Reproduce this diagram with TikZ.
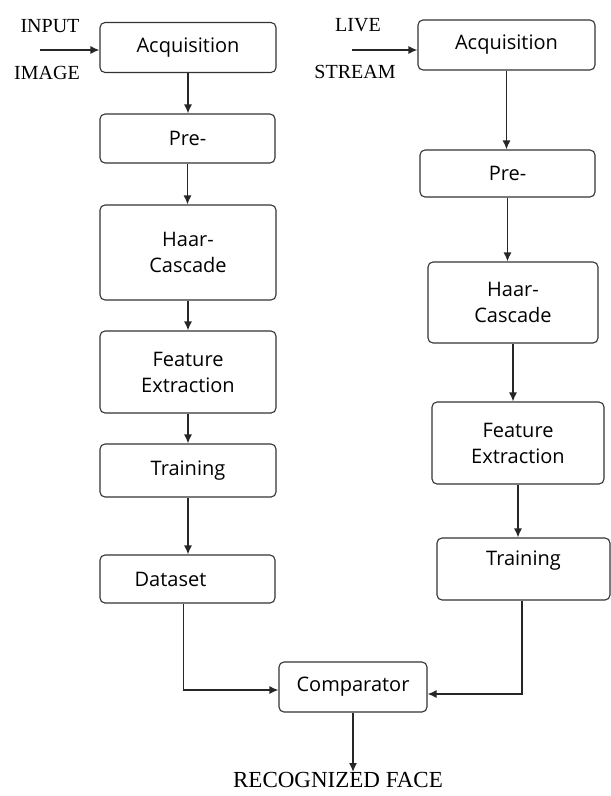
\documentclass[tikz,border=0pt]{standalone}
\usepackage{fontspec}
\setmainfont{Liberation Serif}
\newfontfamily\boxfont{Open Sans}
\usetikzlibrary{arrows.meta,positioning}
\tikzset{>={Latex[length=9pt,width=8pt]}}
\tikzset{stage/.style={draw=black!80, line width=1.1pt, rounded corners=5pt,
    align=center, font=\boxfont\fontsize{20}{26}\selectfont, inner sep=2pt}}
\tikzset{tag/.style={font=\fontsize{20}{22}\selectfont, inner sep=0pt}}
\tikzset{flow/.style={->, draw=black!85, line width=1.4pt}}

\begin{document}
\begin{tikzpicture}[x=1pt,y=-1pt]
  \useasboundingbox (0,0) rectangle (611,796);
  % left column: input image
  \node[stage, minimum width=176pt, minimum height=50pt] (acqL) at (188,47.5) {Acquisition};
  \node[stage, minimum width=175pt, minimum height=49pt] (preL) at (187.5,138.5) {Pre-};
  \node[stage, minimum width=176pt, minimum height=95pt] (haarL) at (188,252.5) {Haar-\\Cascade};
  \node[stage, minimum width=176pt, minimum height=82pt] (featL) at (188,372) {Feature\\ Extraction};
  \node[stage, minimum width=176pt, minimum height=53pt] (trainL) at (188,470.5) {Training};
  \node[stage, minimum width=175pt, minimum height=48pt] (data) at (187.5,579) {\hspace*{-34pt}Dataset};
  % right column: live stream
  \node[stage, minimum width=177pt, minimum height=50pt] (acqR) at (506.5,45) {Acquisition};
  \node[stage, minimum width=175pt, minimum height=47pt] (preR) at (507.5,173.5) {Pre-};
  \node[stage, minimum width=170pt, minimum height=81pt] (haarR) at (513,302.5) {Haar-\\Cascade};
  \node[stage, minimum width=172pt, minimum height=82pt] (featR) at (518,443) {Feature\\Extraction};
  \node[stage, minimum width=173pt, minimum height=62pt, text depth=22pt] (trainR) at (523.5,569) {Training};
  % comparator and output
  \node[stage, minimum width=148pt, minimum height=50pt] (comp) at (353,687) {Comparator};
  \node[tag, font=\fontsize{23}{25}\selectfont, anchor=north] (out) at (338,772) {RECOGNIZED FACE};

  % inputs
  \node[tag] (inTop) at (50,26) {INPUT};
  \node[tag] (inBot) at (47,73) {IMAGE};
  \node[tag] (liveTop) at (358,25) {LIVE};
  \node[tag] (liveBot) at (355,72) {STREAM};
  \coordinate (inL) at (40,50);
  \coordinate (inR) at (352,50);
  \draw[flow] (inL) -- (inL -| acqL.west);
  \draw[flow] (inR) -- (inR -| acqR.west);

  % chains
  \foreach \a/\b in {acqL/preL, preL/haarL, haarL/featL, featL/trainL, trainL/data,
                     acqR/preR, preR/haarR, haarR/featR, featR/trainR}
    \draw[flow] (\a.south) -- (\a.south |- \b.north);

  \draw[flow] ([xshift=-4pt]data.south) |- ([yshift=-3pt]comp.west);
  \draw[flow] ([xshift=-1.5pt]trainR.south) |- ([yshift=-7pt]comp.east);
  \draw[flow] (comp.south) -- (comp.south |- out.north);
\end{tikzpicture}
\end{document}
